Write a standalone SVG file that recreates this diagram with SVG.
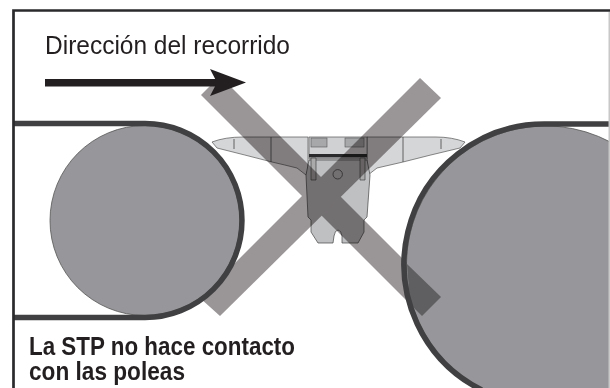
<svg xmlns="http://www.w3.org/2000/svg" width="610" height="388" viewBox="0 0 610 388">
<style>
#cross{fill:#9a9596;mix-blend-mode:multiply}
.pulley{fill:#97979b;stroke:#555;stroke-width:.8}
.belt{fill:none;stroke:#404042;stroke-width:5.500}
.bl{fill:none;stroke:#444;stroke-width:.8}
.t{font-family:"Liberation Sans",Arial,sans-serif;fill:#231f20}
</style>
<rect width="610" height="388" fill="#fff"/>
<g id="bracket">
<path d="M212 142 Q225 137 243 137 L308 137 L308 170 L306 175 L297 168 Q285 165 272 162 Q245 155 217 148 Z" fill="#d5d6d8" stroke="#555" stroke-width=".7"/>
<path d="M465 142 Q452 137 436 137 L367 137 L367 170 L368 175 L377 168 Q390 165 403 162 Q430 155 460 148 Z" fill="#d5d6d8" stroke="#555" stroke-width=".7"/>
<path d="M306 175 L308 217 L311 220 V232 L318 243 H333 L334 236 Q335 230 338 230 Q341 230 342 236 L342 243 H358 L364 232 V220 L367 217 L370 175 L367 160 H309 Z" fill="#bfc0c2" stroke="#444" stroke-width=".7"/>
<path d="M234 139 V149 M271 137 V162 M403 137 V162 M441 139 V149" class="bl"/>
<rect x="309" y="137" width="58" height="22" fill="#d0d1d3" stroke="#555" stroke-width=".7"/>
<rect x="311" y="138" width="16" height="9" fill="#a7a8aa" stroke="#555" stroke-width=".6"/>
<rect x="345" y="138" width="19" height="9" fill="#a7a8aa" stroke="#555" stroke-width=".6"/>
<rect x="309" y="154" width="58" height="3.500" fill="#2a2a2c"/>
<rect x="309" y="157.500" width="58" height="2" fill="#8f8f92"/>
<path d="M311 158 H316 V180 H311 Z M360 158 H365 V180 H360 Z" fill="#aaa" stroke="#444" stroke-width=".7"/>
<circle cx="337.700" cy="174.300" r="4.700" fill="none" stroke="#444" stroke-width=".8"/>
</g>
<g id="cross">
<polygon points="220,76 441,297 422,316 201,95"/>
<polygon points="420,78 441,98 220,316 200,298"/>
</g>
<g id="left-pulley">
<circle class="pulley" cx="145" cy="220.500" r="95"/>
</g>
<g id="right-pulley">
<circle class="pulley" cx="545.400" cy="264.900" r="139"/>
<polygon points="407,264 441,297 422,316 410,304" fill="#5f5f61"/>
</g>
<g id="connectors">
<path class="belt" d="M14 123.500 H145 A97 97 0 0 1 145 317.500 H14"/>
<path class="belt" d="M610 124 H545.400 A140.400 140.400 0 0 0 481.700 390"/>
</g>
<g id="arrow">
<rect x="45" y="79" width="175" height="7.500" fill="#231f20"/>
<polygon points="246,82.500 210,69 217,82.500 210,96" fill="#231f20"/>
</g>
<path d="M13.500 388 V10.500 H610" fill="none" stroke="#2a2a2c" stroke-width="2.700"/>
<rect x="608.500" y="12" width="1.500" height="376" fill="#c8c8c8"/>
<g id="labels">
<text class="t" x="45" y="54" font-size="25" textLength="245" lengthAdjust="spacingAndGlyphs">Dirección del recorrido</text>
<text class="t" x="29" y="355" font-size="26" font-weight="700" textLength="266" lengthAdjust="spacingAndGlyphs">La STP no hace contacto</text>
<text class="t" x="29" y="380" font-size="26" font-weight="700" textLength="156" lengthAdjust="spacingAndGlyphs">con las poleas</text>
</g>
</svg>
